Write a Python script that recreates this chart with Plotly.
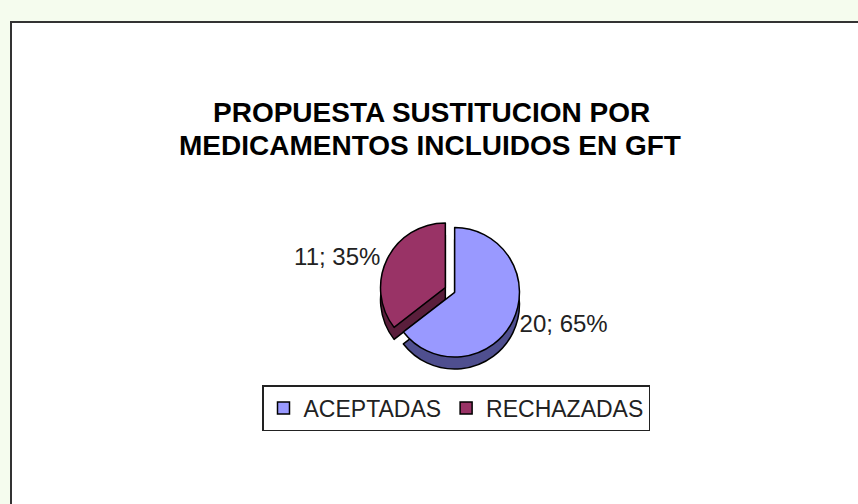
import plotly.graph_objects as go

labels = ["ACEPTADAS", "RECHAZADAS"]
values = [20, 11]
top_colors = ["#9999FF", "#993366"]
side_colors = ["#4F4F8F", "#5A1E3B"]
title_lines = ["PROPUESTA SUSTITUCION POR", "MEDICAMENTOS INCLUIDOS EN GFT"]

W, H = 858, 504
cx, cy = 450, 290
half_w, half_h = 110, 70
depth = 12
BG = "#F5FCEE"

def py(p):
    return 1 - p / H

fig = go.Figure()

# side (depth) of the pie
fig.add_trace(go.Pie(
    labels=labels, values=values, sort=False, direction="clockwise", rotation=0,
    pull=[0.08, 0.08],
    marker=dict(colors=side_colors, line=dict(color="black", width=1.5)),
    textinfo="none", showlegend=False, hoverinfo="skip",
    domain=dict(x=[(cx - half_w) / W, (cx + half_w) / W],
                y=[py(cy + half_h + depth), py(cy - half_h + depth)]),
))

# top face of the pie
fig.add_trace(go.Pie(
    labels=labels, values=values, sort=False, direction="clockwise", rotation=0,
    pull=[0.08, 0.08],
    marker=dict(colors=top_colors, line=dict(color="black", width=1.5)),
    texttemplate="%{value}; %{percent:.0%}", textposition="outside",
    outsidetextfont=dict(family="Liberation Sans, Arial", size=24, color="#222222"),
    domain=dict(x=[(cx - half_w) / W, (cx + half_w) / W],
                y=[py(cy + half_h), py(cy - half_h)]),
))

title_font = dict(family="Liberation Sans, Arial", size=28, color="black", weight="bold")

fig.update_layout(
    width=W, height=H,
    margin=dict(l=0, r=0, t=0, b=0),
    paper_bgcolor=BG,
    plot_bgcolor="white",
    annotations=[
        dict(text=title_lines[0], x=431 / W, y=py(113), xref="paper", yref="paper",
             xanchor="center", yanchor="middle", showarrow=False, font=title_font),
        dict(text=title_lines[1], x=430 / W, y=py(145), xref="paper", yref="paper",
             xanchor="center", yanchor="middle", showarrow=False, font=title_font),
    ],
    legend=dict(
        orientation="h",
        x=456 / W, xanchor="center",
        y=py(385), yanchor="top",
        bordercolor="#222222", borderwidth=1.5, bgcolor="white",
        font=dict(family="Liberation Sans, Arial", size=23, color="#222222"),
        itemwidth=30,
    ),
    shapes=[dict(
        type="rect", xref="paper", yref="paper", layer="below",
        x0=11 / W, x1=1.02, y0=-0.02, y1=py(22),
        fillcolor="white", line=dict(color="#333333", width=2),
    )],
)

fig.write_html(
    "out.html",
    config={"displayModeBar": False},
    post_script=f"document.body.style.margin='0';document.body.style.background='{BG}';",
)
